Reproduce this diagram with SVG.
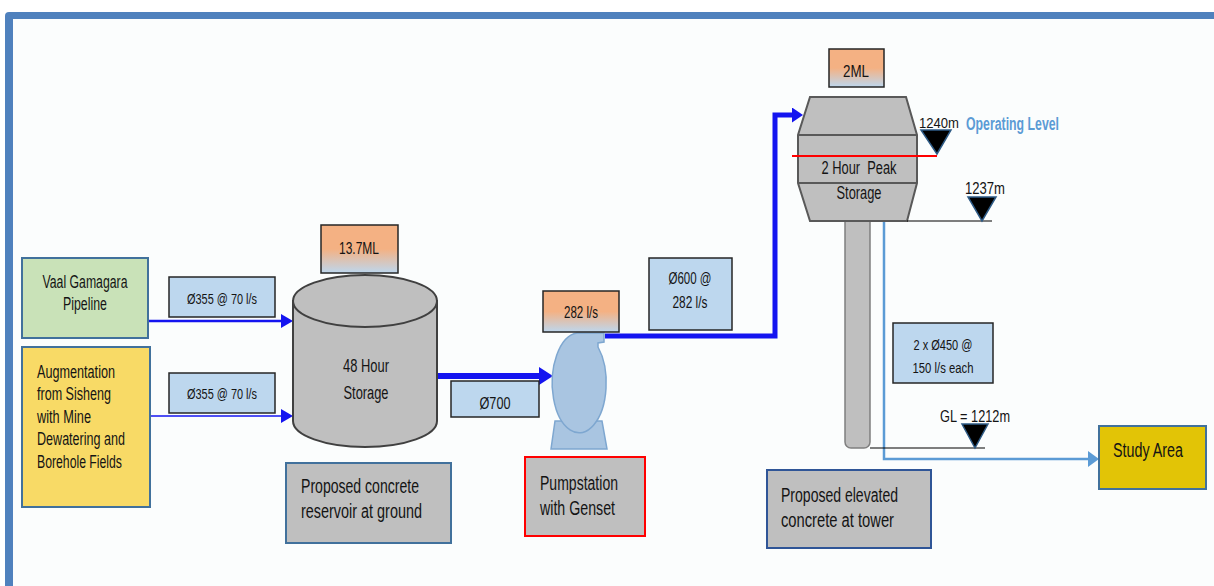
<svg xmlns="http://www.w3.org/2000/svg" width="1214" height="586" viewBox="0 0 1214 586">
  <defs>
    <style>
      .t { font-family: "Liberation Sans", Arial, sans-serif; fill: #141414; }
      .c { text-anchor: middle; }
      .node { stroke: #41719c; stroke-width: 2; }
      .lbl { fill: #bdd7ee; stroke: #262626; stroke-width: 1.5; }
      .cap { fill: url(#capFill); stroke: #262626; stroke-width: 1.5; }
      .grey { fill: #bfbfbf; }
      .pipe { fill: none; stroke: #1414f0; }
      .tri { fill: #000; stroke: #2e5b86; stroke-width: 1.5; }
    </style>
    <linearGradient id="capFill" x1="0" y1="0" x2="0" y2="1">
      <stop offset="0" stop-color="#f4b183"/>
      <stop offset="0.5" stop-color="#f4b183"/>
      <stop offset="1" stop-color="#bdd7ee"/>
    </linearGradient>
    <marker id="headS" markerUnits="userSpaceOnUse" viewBox="0 0 12 14" refX="0" refY="7" markerWidth="12" markerHeight="14" orient="auto">
      <path d="M0,0 L12,7 L0,14 z" fill="#1414f0"/>
    </marker>
    <marker id="headL" markerUnits="userSpaceOnUse" viewBox="0 0 14 18" refX="0" refY="9" markerWidth="14" markerHeight="18" orient="auto">
      <path d="M0,0 L14,9 L0,18 z" fill="#1414f0"/>
    </marker>
    <marker id="headM" markerUnits="userSpaceOnUse" viewBox="0 0 11 15" refX="0" refY="7.5" markerWidth="11" markerHeight="15" orient="auto">
      <path d="M0,0 L11,7.5 L0,15 z" fill="#1414f0"/>
    </marker>
    <marker id="headLB" markerUnits="userSpaceOnUse" viewBox="0 0 11 16" refX="0" refY="8" markerWidth="11" markerHeight="16" orient="auto">
      <path d="M0,0 L11,8 L0,16 z" fill="#5b9bd5"/>
    </marker>
  </defs>

  <!-- page and frame -->
  <rect x="0" y="0" width="1214" height="586" fill="#ffffff"/>
  <rect x="5" y="12" width="1230" height="600" rx="4" fill="#4f81bd"/>
  <rect x="13" y="19" width="1220" height="590" fill="#fbfdfd"/>

  <!-- connectors -->
  <g id="connectors">
    <path class="pipe" d="M148,321 H281" stroke-width="2.5" marker-end="url(#headS)"/>
    <path class="pipe" d="M150,416 H281" stroke-width="1.6" marker-end="url(#headS)"/>
    <path class="pipe" d="M437,376 H539" stroke-width="6" marker-end="url(#headL)"/>
    <path class="pipe" d="M605,336 H775 V115 H792" stroke-width="5" stroke-linejoin="miter" marker-end="url(#headM)"/>
    <path d="M884,218 V459 H1088" fill="none" stroke="#5b9bd5" stroke-width="2.5" marker-end="url(#headLB)"/>
  </g>

  <!-- sources -->
  <g id="vaal-gamagara">
    <rect class="node" x="22" y="258" width="126" height="80" fill="#c9e2b8"/>
    <text class="t c" x="85" y="288" font-size="17.5" textLength="85" lengthAdjust="spacingAndGlyphs">Vaal Gamagara</text>
    <text class="t c" x="85" y="310" font-size="17.5" textLength="44" lengthAdjust="spacingAndGlyphs">Pipeline</text>
  </g>
  <g id="augmentation">
    <rect class="node" x="22" y="347" width="128" height="160" fill="#f8da66"/>
    <text class="t" x="37" y="378" font-size="17.5" textLength="78" lengthAdjust="spacingAndGlyphs">Augmentation</text>
    <text class="t" x="37" y="400" font-size="17.5" textLength="74" lengthAdjust="spacingAndGlyphs">from Sisheng</text>
    <text class="t" x="37" y="423" font-size="17.5" textLength="54" lengthAdjust="spacingAndGlyphs">with Mine</text>
    <text class="t" x="37" y="445" font-size="17.5" textLength="88" lengthAdjust="spacingAndGlyphs">Dewatering and</text>
    <text class="t" x="37" y="468" font-size="17.5" textLength="85" lengthAdjust="spacingAndGlyphs">Borehole Fields</text>
  </g>
  <g id="pipe-label-1">
    <rect class="lbl" x="169" y="277" width="106" height="40"/>
    <text class="t c" x="222" y="303.5" font-size="15" textLength="70" lengthAdjust="spacingAndGlyphs">Ø355 @ 70 l/s</text>
  </g>
  <g id="pipe-label-2">
    <rect class="lbl" x="169" y="373" width="106" height="40"/>
    <text class="t c" x="222" y="398.5" font-size="15" textLength="70" lengthAdjust="spacingAndGlyphs">Ø355 @ 70 l/s</text>
  </g>

  <!-- ground reservoir -->
  <g id="reservoir">
    <path class="grey" d="M293,301 V421 A72,26 0 0 0 437,421 V301 Z" stroke="#404040" stroke-width="2"/>
    <ellipse class="grey" cx="365" cy="301" rx="72" ry="26" stroke="#404040" stroke-width="2"/>
    <text class="t c" x="366" y="371.5" font-size="18" textLength="46" lengthAdjust="spacingAndGlyphs">48 Hour</text>
    <text class="t c" x="366" y="398.5" font-size="18" textLength="45" lengthAdjust="spacingAndGlyphs">Storage</text>
  </g>
  <g id="reservoir-volume">
    <rect class="cap" x="321" y="225" width="77" height="48"/>
    <text class="t c" x="359" y="254" font-size="17" textLength="40" lengthAdjust="spacingAndGlyphs">13.7ML</text>
  </g>
  <g id="pipe-label-3">
    <rect class="lbl" x="451" y="381" width="88" height="36"/>
    <text class="t c" x="495" y="409" font-size="17" textLength="31" lengthAdjust="spacingAndGlyphs">Ø700</text>
  </g>
  <g id="reservoir-note">
    <rect class="node grey" x="286" y="463" width="165" height="80"/>
    <text class="t" x="301" y="493" font-size="19.5" textLength="118" lengthAdjust="spacingAndGlyphs">Proposed concrete</text>
    <text class="t" x="301" y="518" font-size="19.5" textLength="121" lengthAdjust="spacingAndGlyphs">reservoir at ground</text>
  </g>

  <!-- pump station -->
  <g id="pump">
    <path d="M555,421 L602,421 L607,449 L551,449 Z" fill="#a9c5e1" stroke="#7ea7d0" stroke-width="1.5"/>
    <path d="M577,333 H604 V342 L598,343 V347 A27,50 0 1 1 577,333 Z" fill="#a9c5e1" stroke="#7ea7d0" stroke-width="1.5"/>
  </g>
  <g id="pump-flow">
    <rect class="cap" x="543" y="291" width="76" height="41"/>
    <text class="t c" x="581" y="317.5" font-size="16" textLength="34" lengthAdjust="spacingAndGlyphs">282 l/s</text>
  </g>
  <g id="pump-note">
    <rect x="525" y="457" width="120" height="79" fill="#bfbfbf" stroke="#ff0000" stroke-width="2"/>
    <text class="t" x="540" y="490" font-size="19.5" textLength="78" lengthAdjust="spacingAndGlyphs">Pumpstation</text>
    <text class="t" x="540" y="515" font-size="19.5" textLength="75" lengthAdjust="spacingAndGlyphs">with Genset</text>
  </g>
  <g id="pipe-label-4">
    <rect class="lbl" x="649" y="258" width="83" height="72"/>
    <text class="t c" x="690" y="284" font-size="16" textLength="43" lengthAdjust="spacingAndGlyphs">Ø600 @</text>
    <text class="t c" x="690" y="308" font-size="16" textLength="35" lengthAdjust="spacingAndGlyphs">282 l/s</text>
  </g>

  <!-- elevated tower -->
  <g id="tower">
    <path d="M845,221 V442 A6,6 0 0 0 851,448 H864 A6,6 0 0 0 870,442 V221 Z" fill="#bfbfbf" stroke="#7f7f7f" stroke-width="1.5"/>
    <polygon points="810,97 906,97 917,135 917,183 907,221 810,221 798,183 798,135" fill="#bfbfbf" stroke="#595959" stroke-width="2"/>
    <line x1="798" y1="135" x2="917" y2="135" stroke="#595959" stroke-width="2"/>
    <line x1="798" y1="183" x2="917" y2="183" stroke="#595959" stroke-width="2"/>
    <text class="t c" x="859" y="174" font-size="17.5" style="white-space:pre" textLength="75" lengthAdjust="spacingAndGlyphs">2 Hour  Peak</text>
    <text class="t c" x="859" y="199" font-size="17.5" textLength="45" lengthAdjust="spacingAndGlyphs">Storage</text>
  </g>
  <g id="tower-volume">
    <rect class="cap" x="829" y="49" width="55" height="38"/>
    <text class="t c" x="856" y="77" font-size="17" textLength="26" lengthAdjust="spacingAndGlyphs">2ML</text>
  </g>
  <g id="operating-level">
    <line x1="792" y1="156" x2="937" y2="156" stroke="#ff0000" stroke-width="2"/>
    <polygon class="tri" points="921,130 951,130 937,154"/>
    <text class="t" x="919" y="128" font-size="15" textLength="40" lengthAdjust="spacingAndGlyphs">1240m</text>
    <text class="t" x="966" y="130" font-size="17.5" font-weight="bold" style="fill:#5b9bd5" textLength="93" lengthAdjust="spacingAndGlyphs">Operating Level</text>
  </g>
  <g id="bottom-level">
    <line x1="907" y1="221" x2="992" y2="221" stroke="#000" stroke-width="1.2"/>
    <polygon class="tri" points="968,197 996,197 982,221"/>
    <text class="t" x="965" y="194" font-size="17" textLength="40" lengthAdjust="spacingAndGlyphs">1237m</text>
  </g>
  <g id="ground-level">
    <line x1="870" y1="448" x2="985" y2="448" stroke="#000" stroke-width="1.2"/>
    <polygon class="tri" points="962,424 988,424 975,448"/>
    <text class="t" x="940" y="422" font-size="17" textLength="70" lengthAdjust="spacingAndGlyphs">GL = 1212m</text>
  </g>
  <g id="pipe-label-5">
    <rect class="lbl" x="893" y="323" width="100" height="60"/>
    <text class="t c" x="943" y="349.5" font-size="15.5" textLength="59" lengthAdjust="spacingAndGlyphs">2 x Ø450 @</text>
    <text class="t c" x="943" y="372.5" font-size="15.5" textLength="61" lengthAdjust="spacingAndGlyphs">150 l/s each</text>
  </g>
  <g id="tower-note">
    <rect x="767" y="470" width="164" height="78" fill="#bfbfbf" stroke="#2f5597" stroke-width="2"/>
    <text class="t" x="781" y="502" font-size="19.5" textLength="117" lengthAdjust="spacingAndGlyphs">Proposed elevated</text>
    <text class="t" x="781" y="527" font-size="19.5" textLength="113" lengthAdjust="spacingAndGlyphs">concrete at tower</text>
  </g>
  <g id="study-area">
    <rect class="node" x="1099" y="426" width="107" height="63" fill="#e2c406"/>
    <text class="t c" x="1148" y="457" font-size="19.5" textLength="70" lengthAdjust="spacingAndGlyphs">Study Area</text>
  </g>
</svg>
